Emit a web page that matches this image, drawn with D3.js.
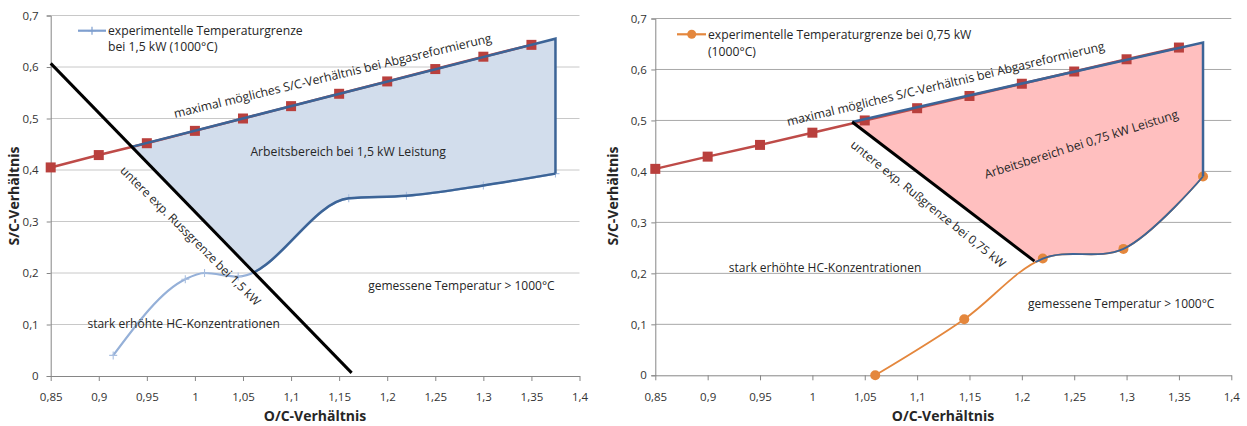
<!DOCTYPE html>
<html>
<head>
<meta charset="utf-8">
<script src="https://cdn.jsdelivr.net/npm/d3@7"></script>
<style>
body { margin: 0; background: #fff; }
svg text { font-family: "Open Sans", "Noto Sans", sans-serif; fill: #262626; }
.axis text { font-size: 11.5px; fill: #333; }
.axis path, .axis line { stroke: #868686; }
</style>
</head>
<body>
<svg id="chart" width="1247" height="426"></svg>
<script>
// axis ticks
var xTicks = [0.85, 0.9, 0.95, 1, 1.05, 1.1, 1.15, 1.2, 1.25, 1.3, 1.35, 1.4];
var xTickLabels = ["0,85", "0,9", "0,95", "1", "1,05", "1,1", "1,15", "1,2", "1,25", "1,3", "1,35", "1,4"];
var yTicks = [0, 0.1, 0.2, 0.3, 0.4, 0.5, 0.6, 0.7];
var yTickLabels = ["0", "0,1", "0,2", "0,3", "0,4", "0,5", "0,6", "0,7"];

// maximal moegliches S/C-Verhaeltnis (beide Diagramme)
var maxOc = [0.85, 0.9, 0.95, 1, 1.05, 1.1, 1.15, 1.2, 1.25, 1.3, 1.35];
var maxSc = [0.405, 0.429, 0.452, 0.476, 0.5, 0.524, 0.548, 0.572, 0.596, 0.62, 0.643];

// 1,5 kW
var temp15Oc = [0.915, 0.99, 1.01, 1.045, 1.16, 1.22, 1.3, 1.375];
var temp15Sc = [0.04, 0.188, 0.2, 0.193, 0.345, 0.35, 0.37, 0.393];
var soot15Oc = [0.85, 1.163];
var soot15Sc = [0.607, 0.006];
var bound15Oc = [0.93, 1.375, 1.375];
var bound15Sc = [0.443, 0.655, 0.393];

// 0,75 kW
var temp075Oc = [1.06, 1.145, 1.22, 1.297, 1.373];
var temp075Sc = [0, 0.11, 0.229, 0.248, 0.39];
var soot075Oc = [1.038, 1.212];
var soot075Sc = [0.497, 0.224];
var bound075Oc = [1.038, 1.373, 1.373];
var bound075Sc = [0.497, 0.653, 0.39];

var svg = d3.select("#chart");
var zip = function(a, b) { return a.map(function(v, i) { return [v, b[i]]; }); };

function makePanel(p) {
    var x = d3.scaleLinear().domain([0.85, 1.4]).range([p.left, p.right]);
    var y = d3.scaleLinear().domain([0, 0.7]).range([p.bottom, p.top]);
    var g = svg.append("g");

    g.selectAll("line.grid")
        .data(yTicks.slice(1))
        .enter().append("line")
        .attr("x1", x(0.85)).attr("x2", x(1.4))
        .attr("y1", function(d) { return y(d); })
        .attr("y2", function(d) { return y(d); })
        .attr("stroke", p.grid);

    var yAxis = d3.axisLeft(y).tickValues(yTicks).tickSize(4).tickPadding(p.yPad)
        .tickFormat(function(d, i) { return yTickLabels[i]; });
    g.append("g").attr("class", "axis")
        .attr("transform", "translate(" + x(0.85) + ",0)")
        .call(yAxis);

    var xAxis = d3.axisBottom(x).tickValues(xTicks).tickSize(5).tickPadding(p.xPad).tickSizeOuter(0)
        .tickFormat(function(d, i) { return xTickLabels[i]; });
    g.append("g").attr("class", "axis")
        .attr("transform", "translate(0," + y(0) + ")")
        .call(xAxis);

    g.append("text")
        .text("O/C-Verhältnis")
        .attr("x", p.xTitleX).attr("y", 421)
        .attr("text-anchor", "middle")
        .style("font-weight", "bold").style("font-size", "14px");

    g.append("text")
        .text("S/C-Verhältnis")
        .attr("transform", "translate(" + p.yTitleX + ",196) rotate(-90)")
        .attr("text-anchor", "middle")
        .attr("dy", "0.35em")
        .style("font-weight", "bold").style("font-size", "14px");

    return { g: g, x: x, y: y };
}

// half plane right/above of the soot line, used as clip
function sootClip(panel, id, oc, sc) {
    var p1 = [panel.x(oc[0]), panel.y(sc[0])], p2 = [panel.x(oc[1]), panel.y(sc[1])];
    var len = Math.hypot(p2[0] - p1[0], p2[1] - p1[1]);
    var d = [(p2[0] - p1[0]) / len, (p2[1] - p1[1]) / len];
    var n = [d[1], -d[0]];
    var a = [p1[0] - d[0] * 2000, p1[1] - d[1] * 2000];
    var b = [p2[0] + d[0] * 2000, p2[1] + d[1] * 2000];
    var pts = [a, b, [b[0] + n[0] * 3000, b[1] + n[1] * 3000], [a[0] + n[0] * 3000, a[1] + n[1] * 3000]];
    svg.append("clipPath").attr("id", id)
        .append("path").attr("d", d3.line()(pts) + "Z");
}

function text(g, str, px, py, angle, size, anchor) {
    g.append("text")
        .text(str)
        .attr("transform", "translate(" + px + "," + py + ") rotate(" + angle + ")")
        .attr("text-anchor", anchor || "middle")
        .attr("dy", "0.35em")
        .style("font-size", size + "px");
}

function drawPanel(panel, cfg) {
    var x = panel.x, y = panel.y, g = panel.g;
    var lin = d3.line().x(function(d) { return x(d[0]); }).y(function(d) { return y(d[1]); });
    var smooth = d3.line().x(function(d) { return x(d[0]); }).y(function(d) { return y(d[1]); })
        .curve(cfg.curve);

    var temp = zip(cfg.tempOc, cfg.tempSc);
    var bound = zip(cfg.boundOc, cfg.boundSc);
    var soot = zip(cfg.sootOc, cfg.sootSc);
    sootClip(panel, cfg.clipId, cfg.sootOc, cfg.sootSc);

    // working area
    var back = smooth(temp.slice().reverse());
    g.append("path")
        .attr("d", lin(bound) + "L" + back.slice(1) + "Z")
        .attr("fill", cfg.fill)
        .attr("clip-path", "url(#" + cfg.clipId + ")");

    // max S/C line
    var maxPts = zip(maxOc, maxSc);
    g.append("path").attr("d", lin(maxPts))
        .attr("fill", "none").attr("stroke", "#be4b48").attr("stroke-width", 2.5);
    g.selectAll("rect.max").data(maxPts).enter().append("rect")
        .attr("x", function(d) { return x(d[0]) - 5; })
        .attr("y", function(d) { return y(d[1]) - 5; })
        .attr("width", 10).attr("height", 10)
        .attr("fill", "#b9403d");

    // experimental temperature limit
    g.append("path").attr("d", smooth(temp))
        .attr("fill", "none").attr("stroke", cfg.tempColor).attr("stroke-width", cfg.tempWidth);
    if (cfg.markers) cfg.markers(g, temp);

    // outline of the working area
    g.append("path").attr("d", lin(bound))
        .attr("fill", "none").attr("stroke", "#3c6497").attr("stroke-width", 2.5)
        .attr("clip-path", "url(#" + cfg.clipId + ")");
    g.append("path").attr("d", smooth(temp))
        .attr("fill", "none").attr("stroke", "#3c6497").attr("stroke-width", cfg.outlineWidth)
        .attr("clip-path", "url(#" + cfg.clipId + ")");

    // soot limit
    g.append("path").attr("d", lin(soot))
        .attr("fill", "none").attr("stroke", "#000").attr("stroke-width", 3);
}

// ---------- left: 1,5 kW ----------
var left = makePanel({ left: 50.7, right: 579.5, top: 15.5, bottom: 376, grid: "#c8c8c8",
    yPad: 8, xPad: 12, xTitleX: 315, yTitleX: 14 });
drawPanel(left, { tempOc: temp15Oc, tempSc: temp15Sc, boundOc: bound15Oc, boundSc: bound15Sc,
    sootOc: soot15Oc, sootSc: soot15Sc, clipId: "clip15", fill: "#d2ddec",
    curve: d3.curveMonotoneX,
    tempColor: "#95b0d8", tempWidth: 2.2, outlineWidth: 2.5,
    markers: function(g, pts) {
        g.selectAll("path.plus").data(pts).enter().append("path")
            .attr("d", function(d) {
                var cx = left.x(d[0]), cy = left.y(d[1]);
                return "M" + (cx - 4) + "," + cy + "H" + (cx + 4) + "M" + cx + "," + (cy - 4) + "V" + (cy + 4);
            })
            .attr("stroke", "#a9bfe0").attr("stroke-width", 1.1);
    } });

// legend
left.g.append("line").attr("x1", 78).attr("x2", 106).attr("y1", 30.7).attr("y2", 30.7)
    .attr("stroke", "#7f9fcf").attr("stroke-width", 2.2);
left.g.append("path").attr("d", "M88,30.7H96M92,26.7V34.7").attr("stroke", "#7f9fcf").attr("stroke-width", 1.2);
text(left.g, "experimentelle Temperaturgrenze", 108, 30.7, 0, 12.2, "start");
text(left.g, "bei 1,5 kW (1000°C)", 108, 46.7, 0, 12.2, "start");

left.g.append("text").text("maximal mögliches S/C-Verhältnis bei Abgasreformierung")
    .attr("transform", "translate(175,118) rotate(-13.5)").style("font-size", "12.2px");
text(left.g, "Arbeitsbereich bei 1,5 kW Leistung", left.x(1.1594), left.y(0.435), 0, 12.2);
var a15 = Math.atan2(left.y(soot15Sc[1]) - left.y(soot15Sc[0]), left.x(soot15Oc[1]) - left.x(soot15Oc[0])) * 180 / Math.PI;
text(left.g, "untere exp. Russgrenze bei 1,5 kW", left.x(0.9955), left.y(0.272), a15 - 1, 12);
text(left.g, "stark erhöhte HC-Konzentrationen", left.x(0.9883), left.y(0.101), 0, 12);
text(left.g, "gemessene Temperatur > 1000°C", left.x(1.2772), left.y(0.1748), 0, 12);

// ---------- right: 0,75 kW ----------
var right = makePanel({ left: 655.3, right: 1231.3, top: 18.5, bottom: 375.3, grid: "#a8a8a8",
    yPad: 4.5, xPad: 13, xTitleX: 943, yTitleX: 613 });
drawPanel(right, { tempOc: temp075Oc, tempSc: temp075Sc, boundOc: bound075Oc, boundSc: bound075Sc,
    sootOc: soot075Oc, sootSc: soot075Sc, clipId: "clip075", fill: "#ffbfbf",
    curve: d3.curveCatmullRom.alpha(0.5),
    tempColor: "#e4873d", tempWidth: 1.8, outlineWidth: 1.8,
    markers: function(g, pts) {
        g.selectAll("circle.temp").data(pts).enter().append("circle")
            .attr("cx", function(d) { return right.x(d[0]); })
            .attr("cy", function(d) { return right.y(d[1]); })
            .attr("r", 5).attr("fill", "#e4873d");
    } });

// legend
right.g.append("line").attr("x1", 677).attr("x2", 706).attr("y1", 34.3).attr("y2", 34.3)
    .attr("stroke", "#e4873d").attr("stroke-width", 2.2);
right.g.append("circle").attr("cx", 691.7).attr("cy", 34.3).attr("r", 4.5).attr("fill", "#e4873d");
text(right.g, "experimentelle  Temperaturgrenze  bei 0,75 kW", 708, 34.3, 0, 12.2, "start");
text(right.g, "(1000°C)", 708, 51.7, 0, 12.2, "start");

right.g.append("text").text("maximal mögliches S/C-Verhältnis bei Abgasreformierung")
    .attr("transform", "translate(788,126) rotate(-13.5)").style("font-size", "12.2px");
text(right.g, "Arbeitsbereich bei 0,75 kW Leistung", right.x(1.2567), right.y(0.4535), -17.5, 12.2);
var a075 = Math.atan2(right.y(soot075Sc[1]) - right.y(soot075Sc[0]), right.x(soot075Oc[1]) - right.x(soot075Oc[0])) * 180 / Math.PI;
text(right.g, "untere exp. Rußgrenze bei 0,75 kW", right.x(1.1105), right.y(0.3359), a075 + 1.5, 12);
text(right.g, "stark erhöhte HC-Konzentrationen", right.x(1.0121), right.y(0.211), 0, 12);
text(right.g, "gemessene Temperatur  > 1000°C", right.x(1.2949), right.y(0.1398), 0, 12);
</script>
</body>
</html>
